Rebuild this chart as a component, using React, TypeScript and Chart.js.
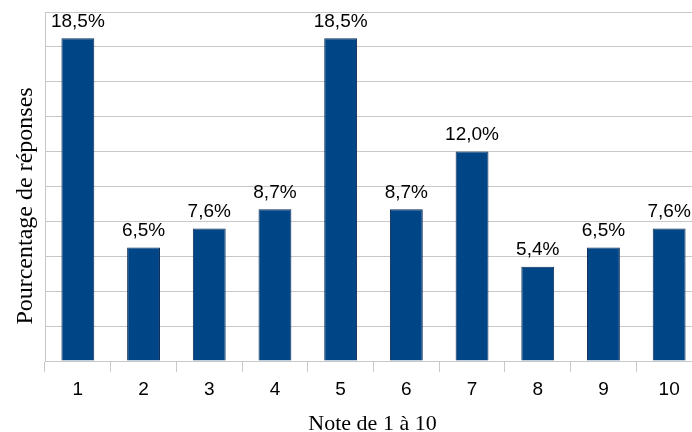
import React, { useEffect, useRef } from "react";
import { Chart, registerables } from "chart.js";

Chart.register(...registerables);

const categories = ["1", "2", "3", "4", "5", "6", "7", "8", "9", "10"];
const percentages = [18.5, 6.5, 7.6, 8.7, 18.5, 8.7, 12.0, 5.4, 6.5, 7.6];
const valueLabels = ["18,5%", "6,5%", "7,6%", "8,7%", "18,5%", "8,7%", "12,0%", "5,4%", "6,5%", "7,6%"];
const xTitle = "Note de 1 à 10";
const yTitle = "Pourcentage de réponses";

const CANVAS_W = 720;
const CANVAS_H = 432;

const valueLabelPlugin = {
  id: "valueLabels",
  afterDatasetsDraw(chart: any) {
    const ctx = chart.ctx;
    const meta = chart.getDatasetMeta(0);
    ctx.save();
    ctx.font = "19px 'Liberation Sans', Arial, sans-serif";
    ctx.fillStyle = "#000000";
    ctx.textAlign = "center";
    ctx.textBaseline = "alphabetic";
    meta.data.forEach((bar: any, i: number) => {
      ctx.fillText(valueLabels[i], bar.x, bar.y - 11.5);
    });
    ctx.restore();
  },
};

const axisTitlePlugin = {
  id: "axisTitles",
  afterDraw(chart: any) {
    const ctx = chart.ctx;
    ctx.save();
    ctx.fillStyle = "#000000";
    ctx.textAlign = "center";
    ctx.textBaseline = "alphabetic";
    ctx.font = "22px 'Liberation Serif', 'Times New Roman', serif";
    ctx.fillText(xTitle, 372.5, 430);
    ctx.translate(31.5, 206);
    ctx.rotate(-Math.PI / 2);
    ctx.font = "24px 'Liberation Serif', 'Times New Roman', serif";
    ctx.fillText(yTitle, 0, 0);
    ctx.restore();
  },
};

export default function App() {
  const canvasRef = useRef<HTMLCanvasElement | null>(null);

  useEffect(() => {
    if (!canvasRef.current) return;
    const chart = new Chart(canvasRef.current, {
      type: "bar",
      data: {
        labels: categories,
        datasets: [
          {
            data: percentages,
            backgroundColor: "#004586",
            borderColor: "#0b2a55",
            borderWidth: 1,
            barPercentage: 0.5,
            categoryPercentage: 1,
          },
        ],
      },
      options: {
        animation: false,
        responsive: false,
        devicePixelRatio: 1,
        layout: { padding: { top: 12, right: CANVAS_W - 702, left: 0, bottom: 0 } },
        plugins: {
          legend: { display: false },
          tooltip: { enabled: false },
          title: { display: false },
        },
        scales: {
          x: {
            offset: true,
            grid: {
              offset: true,
              drawOnChartArea: false,
              drawTicks: true,
              tickLength: 11,
              color: "#c8c8c8",
            },
            border: { display: true, color: "#c8c8c8" },
            ticks: {
              color: "#000000",
              padding: 6.6,
              font: { family: "'Liberation Sans', Arial, sans-serif", size: 19 },
            },
            afterFit(scale: any) {
              scale.height = CANVAS_H - 361;
            },
          },
          y: {
            min: 0,
            max: 20,
            ticks: { display: false, stepSize: 2 },
            grid: { drawTicks: false, color: "#c8c8c8" },
            border: { display: true, color: "#c8c8c8" },
            afterFit(scale: any) {
              scale.width = 45;
            },
          },
        },
      },
      plugins: [valueLabelPlugin, axisTitlePlugin],
    });
    return () => chart.destroy();
  }, []);

  return (
    <div
      style={{
        position: "absolute",
        left: 0,
        top: 0,
        width: 692,
        height: 432,
        overflow: "hidden",
        background: "#ffffff",
      }}
    >
      <canvas
        ref={canvasRef}
        width={CANVAS_W}
        height={CANVAS_H}
        style={{ width: CANVAS_W, height: CANVAS_H, display: "block" }}
      />
    </div>
  );
}
